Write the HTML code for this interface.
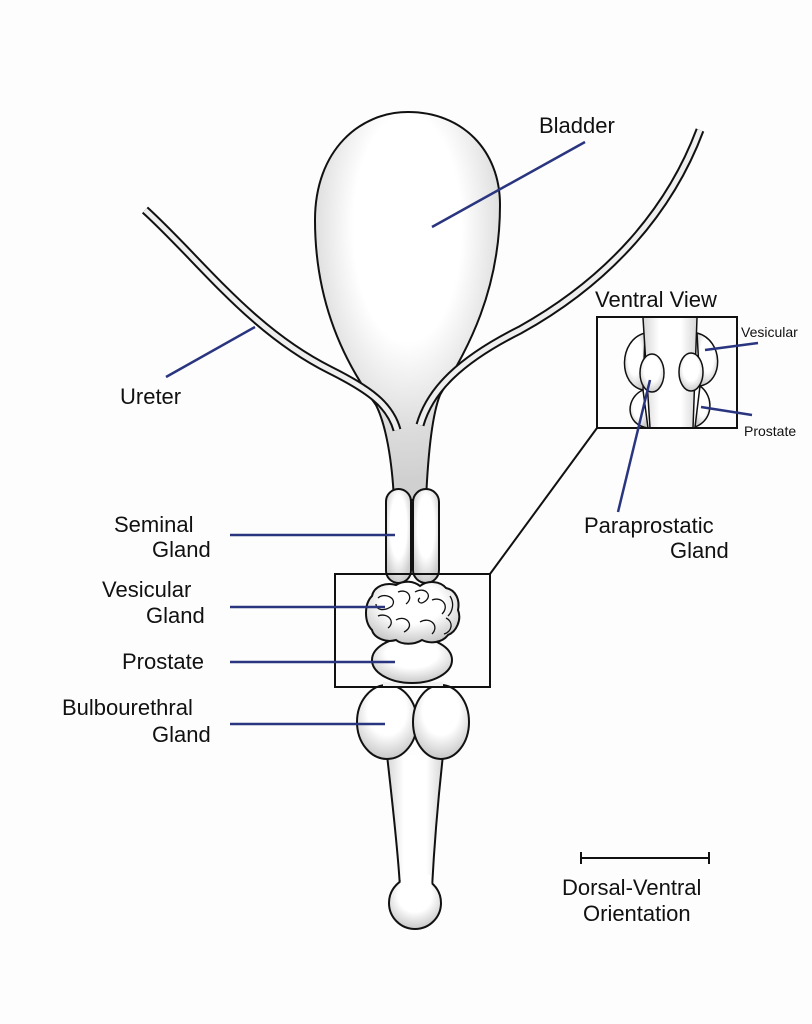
<!DOCTYPE html>
<html><head><meta charset="utf-8"><style>
html,body{margin:0;padding:0;background:#fdfdfd;}
svg{display:block}
text{font-family:"Liberation Sans",sans-serif;fill:#111}
</style></head><body>
<svg width="812" height="1024" viewBox="0 0 812 1024">
<defs>
<radialGradient id="g" cx="50%" cy="40%" r="60%"><stop offset="55%" stop-color="#fff"/><stop offset="100%" stop-color="#cccccc"/></radialGradient>
<radialGradient id="gb" cx="50%" cy="35%" r="65%"><stop offset="50%" stop-color="#fff"/><stop offset="100%" stop-color="#c8c8c8"/></radialGradient>
<radialGradient id="bl" cx="50%" cy="30%" r="65%"><stop offset="45%" stop-color="#fff"/><stop offset="80%" stop-color="#dcdcdc"/><stop offset="100%" stop-color="#d0d0d0"/></radialGradient>
<linearGradient id="sh" x1="0" x2="1"><stop offset="0" stop-color="#d6d6d6"/><stop offset="0.3" stop-color="#fff"/><stop offset="0.7" stop-color="#fff"/><stop offset="1" stop-color="#d6d6d6"/></linearGradient>
</defs>
<g stroke="#111" stroke-width="2" fill="url(#g)">
<path d="M394,500 C392,460 386,425 376,405 C350,370 315,310 315,220 C315,150 360,112 408,112 C462,112 500,150 500,205 C500,300 460,360 440,395 C432,415 428,455 426,500 Z" fill="url(#bl)"/>
<path d="M145,210 C200,260 250,330 330,370 C370,390 390,405 397,430" fill="none" stroke-width="9" stroke="#111"/>
<path d="M145,210 C200,260 250,330 330,370 C370,390 390,405 397,430" fill="none" stroke-width="5" stroke="#efefef"/>
<path d="M700,130 C670,210 610,280 520,330 C460,360 430,390 420,425" fill="none" stroke-width="9" stroke="#111"/>
<path d="M700,130 C670,210 610,280 520,330 C460,360 430,390 420,425" fill="none" stroke-width="5" stroke="#efefef"/>
<rect x="386" y="489" width="25" height="94" rx="12.5" fill="url(#g)"/>
<rect x="413" y="489" width="26" height="94" rx="13" fill="url(#g)"/>
<!-- shaft -->
<path d="M387,755 C392,800 398,850 400,888 L432,888 C434,850 438,800 443,755 Z" fill="url(#sh)" stroke="none"/>
<path d="M387,755 C392,800 398,850 400,888 M443,755 C438,800 434,850 432,888" fill="none"/>
<circle cx="415" cy="903" r="26" fill="url(#gb)"/>
<path d="M401,875 L431,875 L432,892 L400,892 Z" fill="#fff" stroke="none"/>
<ellipse cx="387" cy="722" rx="30" ry="37" fill="url(#gb)"/>
<ellipse cx="441" cy="722" rx="28" ry="37" fill="url(#gb)"/>
<rect x="383" y="682" width="60" height="6" fill="#f2f2f2" stroke="none"/>
<ellipse cx="412" cy="660" rx="40" ry="23" fill="url(#gb)"/>
<path d="M372,596 C374,586 386,582 396,585 C404,580 414,581 420,586 C428,580 440,581 446,588 C456,590 460,600 458,610 C462,620 456,632 448,635 C442,643 430,644 422,640 C414,645 402,645 396,640 C386,643 374,638 372,630 C364,622 364,604 372,596 Z" fill="url(#gb)"/>
<path d="M378,598 C384,592 398,598 392,606 C384,612 376,610 376,604 M398,592 C408,588 414,598 406,604 M415,592 C425,586 434,596 424,602 C420,605 416,600 420,598 M432,600 C442,596 450,606 442,614 M378,616 C388,612 396,622 388,628 M396,620 C406,614 416,626 404,632 M420,622 C430,616 440,626 432,634 M446,618 C454,622 452,632 444,634 M450,596 C455,604 452,612 448,616" fill="none" stroke-width="1.3"/>
</g>
<g fill="none" stroke="#111" stroke-width="2">
<rect x="335" y="574" width="155" height="113"/>
<line x1="490" y1="574" x2="597" y2="428"/>
<line x1="581" y1="858" x2="709" y2="858"/>
<line x1="581" y1="852" x2="581" y2="864"/><line x1="709" y1="852" x2="709" y2="864"/>
</g>
<g stroke="#111" stroke-width="1.5" fill="url(#g)">
<path d="M645,333 C618,340 618,385 643,390 Z"/>
<path d="M643,390 C625,398 625,425 648,428 Z"/>
<path d="M697,333 C724,340 724,382 700,386 Z"/>
<path d="M700,386 C714,396 714,420 695,427 Z"/>
<path d="M643,318 L650,428 L693,428 L697,318 Z" fill="url(#sh)" stroke="none"/>
<path d="M643,318 L650,428 M697,318 L693,428" fill="none"/>
<ellipse cx="652" cy="373" rx="12" ry="19"/>
<ellipse cx="691" cy="372" rx="12" ry="19"/>
</g>
<rect x="597" y="317" width="140" height="111" fill="none" stroke="#111" stroke-width="2"/>
<g stroke="#2a3580" stroke-width="2.5" fill="none">
<line x1="585" y1="142" x2="432" y2="227"/>
<line x1="166" y1="377" x2="255" y2="327"/>
<line x1="230" y1="535" x2="395" y2="535"/>
<line x1="230" y1="607" x2="385" y2="607"/>
<line x1="230" y1="662" x2="395" y2="662"/>
<line x1="230" y1="724" x2="385" y2="724"/>
<line x1="650" y1="380" x2="618" y2="512"/>
<line x1="705" y1="350" x2="758" y2="343"/>
<line x1="701" y1="407" x2="752" y2="415"/>
</g>
<g font-size="22">
<text x="539" y="133">Bladder</text>
<text x="120" y="404">Ureter</text>
<text x="114" y="532">Seminal</text><text x="152" y="557">Gland</text>
<text x="102" y="597">Vesicular</text><text x="146" y="623">Gland</text>
<text x="122" y="669">Prostate</text>
<text x="62" y="715">Bulbourethral</text><text x="152" y="742">Gland</text>
<text x="595" y="307">Ventral View</text>
<text x="584" y="533">Paraprostatic</text><text x="670" y="558">Gland</text>
<text x="562" y="895">Dorsal-Ventral</text><text x="583" y="921">Orientation</text>
</g>
<g font-size="14"><text x="741" y="337">Vesicular</text><text x="744" y="436">Prostate</text></g>
</svg>
</body></html>
